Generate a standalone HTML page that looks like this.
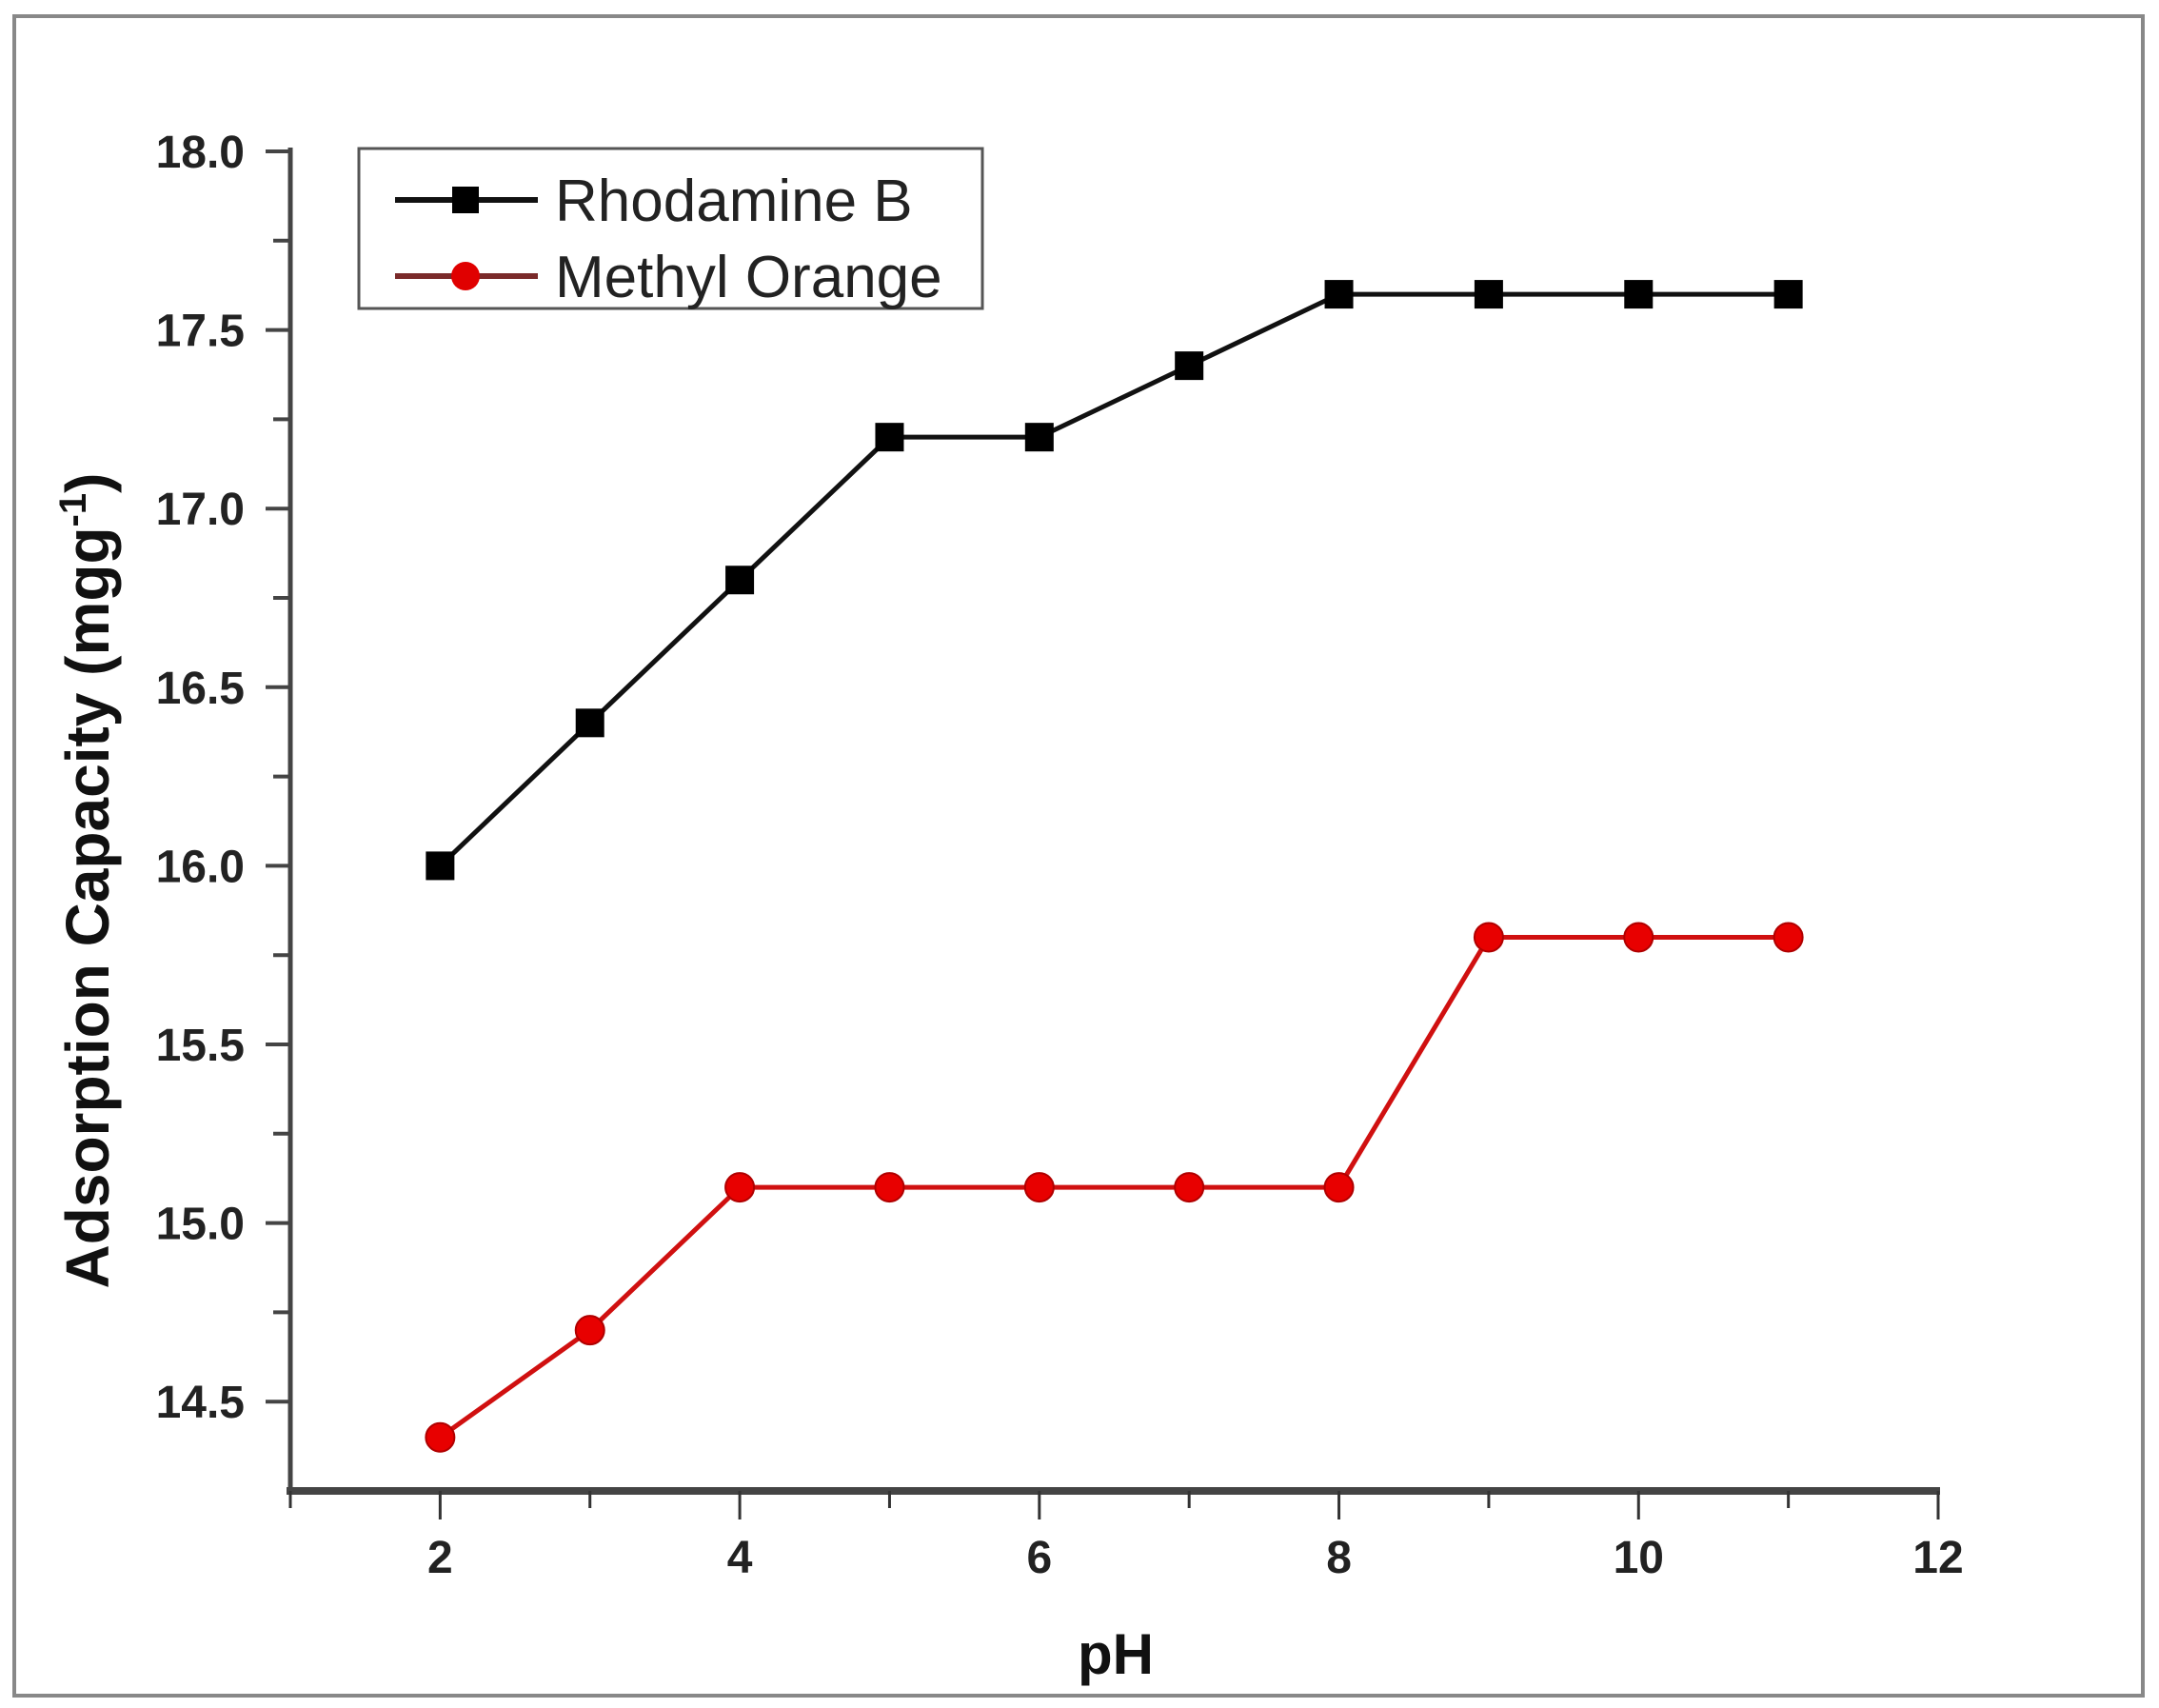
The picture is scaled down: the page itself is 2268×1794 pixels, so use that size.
<!DOCTYPE html>
<html><head><meta charset="utf-8"><style>
html,body{margin:0;padding:0;background:#fff;}
svg{display:block;font-family:"Liberation Sans",Arial,sans-serif;}
</style></head><body>
<svg id="chart" width="2268" height="1794" viewBox="0 0 2268 1794">
<rect x="15" y="17" width="2236" height="1764" fill="#fff" stroke="#888" stroke-width="4"/>
<g id="axes"></g>
<g id="series"></g>
<g>
<rect x="377" y="156" width="655" height="168" fill="#fff" stroke="#555" stroke-width="3"/>
<g>
<line x1="415" y1="210" x2="565" y2="210" stroke="#111" stroke-width="6"/>
<rect x="475" y="196" width="28" height="28" fill="#000"/>
<text x="583" y="232" font-size="62" fill="#222">Rhodamine B</text>
</g>
<g>
<line x1="415" y1="290" x2="565" y2="290" stroke="#7a2a2a" stroke-width="6"/>
<circle cx="489" cy="290" r="15" fill="#e00000"/>
<text x="583" y="312" font-size="62" fill="#222">Methyl Orange</text>
</g>
</g>
<text x="1172" y="1758" font-size="60" font-weight="bold" text-anchor="middle" fill="#111">pH</text>
<text transform="translate(114,925) rotate(-90)" font-size="64" font-weight="bold" text-anchor="middle" fill="#111">Adsorption Capacity (mgg<tspan dy="-24" font-size="40">-1</tspan><tspan dy="24">)</tspan></text>
</svg>
<script>
const categories=[2,3,4,5,6,7,8,9,10,11];
const rhodamineB=[16.0,16.4,16.8,17.2,17.2,17.4,17.6,17.6,17.6,17.6];
const methylOrange=[14.4,14.7,15.1,15.1,15.1,15.1,15.1,15.8,15.8,15.8];
const yTickLabels=["14.5","15.0","15.5","16.0","16.5","17.0","17.5","18.0"];
const xTickLabels=["2","4","6","8","10","12"];

const X0=305,X1=2036,XMIN=1,XMAX=12;
const Y0=1566,Y1=159,YMIN=14.25,YMAX=18.0;
function sx(v){return X0+(v-XMIN)/(XMAX-XMIN)*(X1-X0);}
function sy(v){return Y0-(v-YMIN)/(YMAX-YMIN)*(Y0-Y1);}
const NS="http://www.w3.org/2000/svg";
function mk(tag,attrs,parent){const e=document.createElementNS(NS,tag);for(const k in attrs)e.setAttribute(k,attrs[k]);parent.appendChild(e);return e;}
const axes=document.getElementById('axes');
const ser=document.getElementById('series');

let yAxis=mk('line',{x1:X0,y1:Y1-4,x2:X0,y2:Y0+4,stroke:'#444','stroke-width':5},axes);


let xAxis=mk('line',{x1:X0-4,y1:Y0,x2:X1+2,y2:Y0,stroke:'#444','stroke-width':8},axes);



for(let v=14.5;v<=18.001;v+=0.25){
  const major=Math.abs(v*2-Math.round(v*2))<1e-6;
  let t=mk('line',{x1:X0-(major?26:18),y1:sy(v),x2:X0,y2:sy(v),stroke:'#444','stroke-width':4},axes);
  
  
}
yTickLabels.forEach(s=>{
  let t=mk('text',{x:257,y:sy(parseFloat(s))+17,'font-size':48,'font-weight':'bold','text-anchor':'end',fill:'#222'},axes);
  t.textContent=s;
  
  
});
for(let v=1;v<=12;v++){
  const major=v%2===0;
  let t=mk('line',{x1:sx(v),y1:Y0,x2:sx(v),y2:Y0+(major?30:18),stroke:'#333','stroke-width':3},axes);
  
  
}
xTickLabels.forEach(s=>{
  let t=mk('text',{x:sx(parseFloat(s)),y:1652,'font-size':48,'font-weight':'bold','text-anchor':'middle',fill:'#222'},axes);
  t.textContent=s;
  
  
});

function drawSeries(vals,color,lineColor,shape,name){
  const g=mk('g',{},ser);
  
  
  const pts=categories.map((c,i)=>sx(c)+','+sy(vals[i])).join(' ');
  let pl=mk('polyline',{points:pts,fill:'none',stroke:lineColor,'stroke-width':5},g);
  
  
  categories.forEach((c,i)=>{
    let m;
    if(shape==='square') m=mk('rect',{x:sx(c)-15,y:sy(vals[i])-15,width:30,height:30,fill:color},g);
    else m=mk('circle',{cx:sx(c),cy:sy(vals[i]),r:15,fill:color,stroke:'#b00000','stroke-width':2},g);
    
    
  });
}
drawSeries(rhodamineB,'#000','#111','square','rhodamine-b');
drawSeries(methylOrange,'#e80000','#d01010','circle','methyl-orange');
</script>
</body></html>
